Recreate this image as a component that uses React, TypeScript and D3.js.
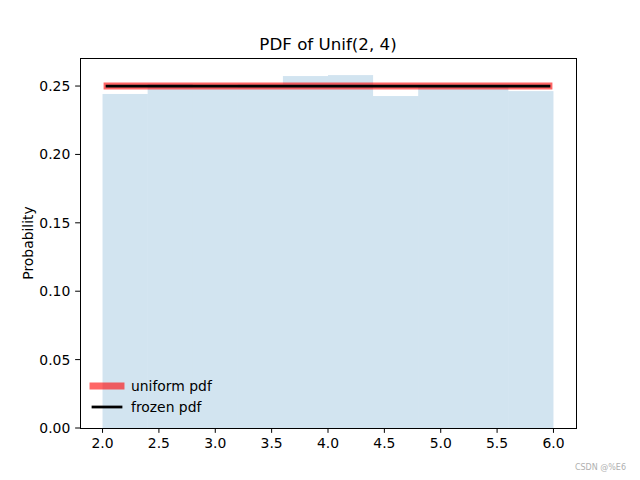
import React from "react";
import * as d3 from "d3";

const binEdges = [2.0, 2.4, 2.8, 3.2, 3.6, 4.0, 4.4, 4.8, 5.2, 5.6, 6.0];
const binHeights = [0.2442, 0.2515, 0.249, 0.2512, 0.2573, 0.258, 0.2427, 0.2505, 0.2508, 0.2463];
const pdfX = [2.04, 5.96];
const pdfY = [0.25, 0.25];
const xTicks = [2.0, 2.5, 3.0, 3.5, 4.0, 4.5, 5.0, 5.5, 6.0];
const yTicks = [0.0, 0.05, 0.1, 0.15, 0.2, 0.25];
const legendLabels = ["uniform pdf", "frozen pdf"];

const W = 640, H = 480;
const L = 80, R = 576, T = 58, B = 428;
const font = "DejaVu Sans, sans-serif";

export default function App() {
  const x = d3.scaleLinear().domain([1.8, 6.2]).range([L, R]);
  const y = d3.scaleLinear().domain([0, 0.2705]).range([B, T]);
  const line = d3.line<number>().x((_, i) => x(pdfX[i])).y((d) => y(d));
  const path = line(pdfY) || "";
  const tl = 4.86;
  return (
    <svg width={W} height={H} style={{ position: "absolute", left: 0, top: 0, background: "#fff" }} fontFamily={font}>
      <rect x={0} y={0} width={W} height={H} fill="#fff" />
      {binHeights.map((h, i) => (
        <rect key={i} x={x(binEdges[i])} y={y(h)} width={x(binEdges[i + 1]) - x(binEdges[i])} height={B - y(h)} fill="#1f77b4" fillOpacity={0.2} />
      ))}
      <path d={path} stroke="#ff0000" strokeOpacity={0.6} strokeWidth={6.94} strokeLinecap="square" fill="none" />
      <path d={path} stroke="#000" strokeWidth={2.78} strokeLinecap="square" fill="none" />
      <rect x={L} y={T} width={R - L} height={B - T} fill="none" stroke="#000" strokeWidth={1} shapeRendering="crispEdges" />
      {xTicks.map((t) => (
        <g key={t}>
          <line x1={x(t)} x2={x(t)} y1={B} y2={B + tl} stroke="#000" strokeWidth={1} />
          <text x={x(t)} y={B + 20} fontSize={13.9} textAnchor="middle" fill="#000">{t.toFixed(1)}</text>
        </g>
      ))}
      {yTicks.map((t) => (
        <g key={t}>
          <line x1={L - tl} x2={L} y1={y(t)} y2={y(t)} stroke="#000" strokeWidth={1} />
          <text x={L - 2 * tl} y={y(t) + 5} fontSize={13.9} textAnchor="end" fill="#000">{t.toFixed(2)}</text>
        </g>
      ))}
      <text x={33} y={(T + B) / 2} fontSize={13.9} textAnchor="middle" transform={`rotate(-90 33 ${(T + B) / 2})`} fill="#000">Probability</text>
      <text x={(L + R) / 2} y={50} fontSize={16.7} textAnchor="middle" fill="#000">PDF of Unif(2, 4)</text>
      <line x1={93} x2={121} y1={386} y2={386} stroke="#ff0000" strokeOpacity={0.6} strokeWidth={6.94} strokeLinecap="square" />
      <text x={131} y={391} fontSize={13.9} fill="#000">{legendLabels[0]}</text>
      <line x1={93} x2={121} y1={407} y2={407} stroke="#000" strokeWidth={2.78} strokeLinecap="square" />
      <text x={131} y={412} fontSize={13.9} fill="#000">{legendLabels[1]}</text>
      <text x={626} y={470} fontSize={8} textAnchor="end" fill="#b0b0b0">CSDN @%E6</text>
    </svg>
  );
}
